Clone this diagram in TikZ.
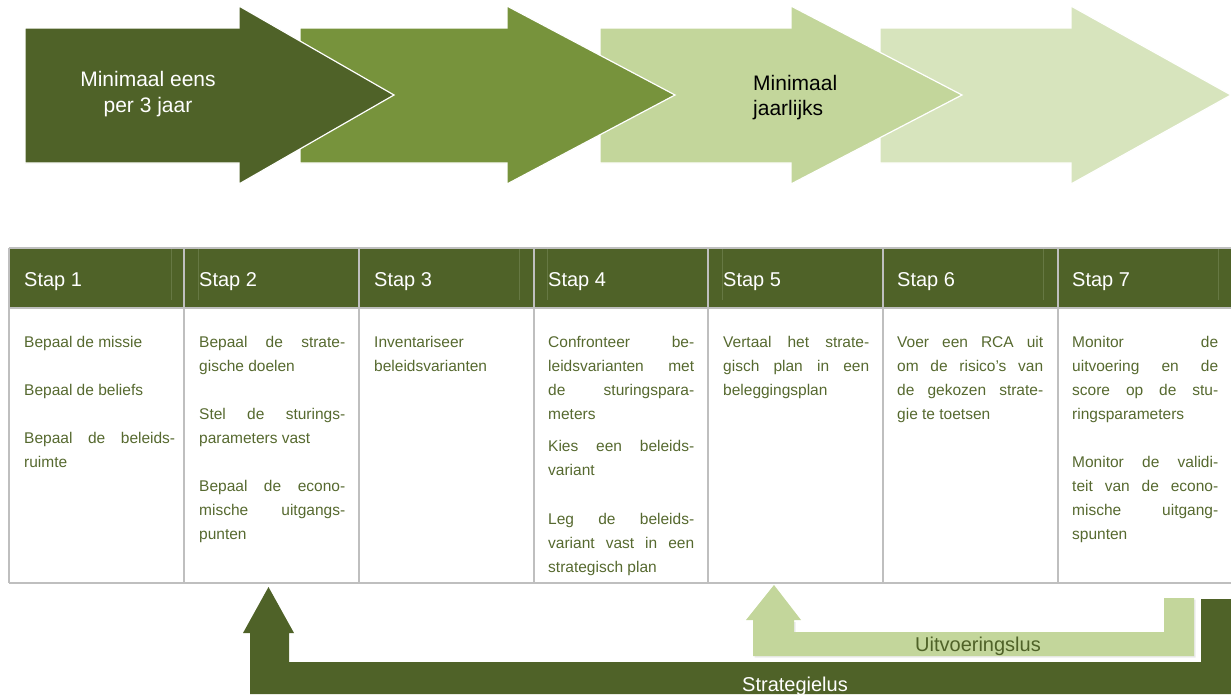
\documentclass[tikz,border=0pt]{standalone}
\usepackage{fontspec}
\setmainfont{Liberation Sans}
\definecolor{dkgreen}{HTML}{4F6228}
\definecolor{mdgreen}{HTML}{77933C}
\definecolor{ltgreen}{HTML}{C3D69B}
\definecolor{xlgreen}{HTML}{D7E4BD}
\definecolor{bodytxt}{HTML}{56692F}
\definecolor{gridgray}{HTML}{BFBFBF}
\definecolor{hdrline}{HTML}{667843}
\newcommand{\J}[1]{\makebox[146pt][s]{#1}}
\newcommand{\JA}[1]{\makebox[151pt][s]{#1}}
\tikzset{
  bigarrow/.style={draw=white, line width=1.2pt, line join=miter},
  hdr/.style={anchor=base west, inner sep=0pt, text=white, font=\fontsize{20}{24}\selectfont},
  cell/.style={anchor=north west, inner sep=0pt, text=bodytxt, font=\fontsize{15.5}{24}\selectfont, align=left},
  gridline/.style={draw=gridgray, line width=2pt},
  faint/.style={draw=hdrline, line width=0.6pt},
  looplabel/.style={anchor=base, inner sep=0pt, font=\fontsize{20}{24}\selectfont}
}
\begin{document}
\begin{tikzpicture}[x=1pt,y=-1pt]
\useasboundingbox (0,0) rectangle (1231,694);
% top arrows
\filldraw[bigarrow, fill=xlgreen] (880,28) -- (1071,28) -- (1071,6) -- (1231,95) -- (1071,184) -- (1071,163) -- (880,163) -- cycle;
\filldraw[bigarrow, fill=ltgreen] (600,28) -- (791,28) -- (791,6) -- (962,95) -- (791,184) -- (791,163) -- (600,163) -- cycle;
\filldraw[bigarrow, fill=mdgreen] (300,28) -- (507,28) -- (507,6) -- (675,95) -- (507,184) -- (507,163) -- (300,163) -- cycle;
\filldraw[bigarrow, fill=dkgreen] (25,28) -- (239,28) -- (239,6) -- (394,95) -- (239,184) -- (239,163) -- (25,163) -- cycle;
\node[inner sep=0pt, text=white, align=center, font=\fontsize{21}{26}\selectfont] (freq1) at (148,94.5) {Minimaal eens\\per 3 jaar};
\node[inner sep=0pt, anchor=west, text=black, align=left, font=\fontsize{21}{25}\selectfont] (freq2) at (753,98) {Minimaal\\jaarlijks};
% table header
\fill[dkgreen] (9,248) rectangle (1231,308);
\foreach \x in {171,198,519,547,722,1043,1218} \draw[faint] (\x,249) -- (\x,300);
\draw[gridline] (9,248) -- (1231,248);
\draw[gridline] (9,308) -- (1231,308);
\draw[gridline] (9,583) -- (1231,583);
\foreach \x in {9,184,359,534,708,883,1058} \draw[gridline] (\x,248) -- (\x,583);
\node[hdr] (h1) at (24,286) {Stap 1};
\node[hdr] (h2) at (199,286) {Stap 2};
\node[hdr] (h3) at (374,286) {Stap 3};
\node[hdr] (h4) at (548,286) {Stap 4};
\node[hdr] (h5) at (723,286) {Stap 5};
\node[hdr] (h6) at (897,286) {Stap 6};
\node[hdr] (h7) at (1072,286) {Stap 7};
% body cells
\node[cell] (b1) at (24,336) {Bepaal de missie\\[24pt]Bepaal de beliefs\\[24pt]\JA{Bepaal de beleids-}\\ruimte};
\node[cell] (b2) at (199,336) {\J{Bepaal de strate-}\\gische doelen\\[24pt]\J{Stel de sturings-}\\parameters vast\\[24pt]\J{Bepaal de econo-}\\\J{mische uitgangs-}\\punten};
\node[cell] (b3) at (374,336) {Inventariseer\\beleidsvarianten};
\node[cell] (b4) at (548,336) {\J{Confronteer be-}\\\J{leidsvarianten met}\\\J{de sturingspara-}\\meters\\[8pt]\J{Kies een beleids-}\\variant\\[25pt]\J{Leg de beleids-}\\\J{variant vast in een}\\strategisch plan};
\node[cell] (b5) at (723,336) {\J{Vertaal het strate-}\\\J{gisch plan in een}\\beleggingsplan};
\node[cell] (b6) at (897,336) {\J{Voer een RCA uit}\\\J{om de risico’s van}\\\J{de gekozen strate-}\\gie te toetsen};
\node[cell] (b7) at (1072,336) {\J{Monitor de}\\\J{uitvoering en de}\\\J{score op de stu-}\\ringsparameters\\[24pt]\J{Monitor de validi-}\\\J{teit van de econo-}\\\J{mische uitgang-}\\spunten};
% bottom loops
\fill[dkgreen] (250,694) -- (250,633) -- (243,633) -- (268.5,587) -- (294,633) -- (289,633) -- (289,662) -- (1201,662) -- (1201,599) -- (1231,599) -- (1231,694) -- cycle;
\fill[black!8] (754.5,657.5) -- (754.5,622) -- (795.5,622) -- (795.5,633.5) -- (1165.5,633.5) -- (1165.5,599.5) -- (1195.5,599.5) -- (1195.5,657.5) -- cycle;
\fill[ltgreen] (753,656) -- (753,620) -- (746,620) -- (774,585) -- (801,620) -- (794,620) -- (794,632) -- (1164,632) -- (1164,598) -- (1194,598) -- (1194,656) -- cycle;
\node[looplabel, text=dkgreen] (uitv) at (978,651) {Uitvoeringslus};
\node[looplabel, text=white] (strat) at (795,691) {Strategielus};
\end{tikzpicture}
\end{document}
